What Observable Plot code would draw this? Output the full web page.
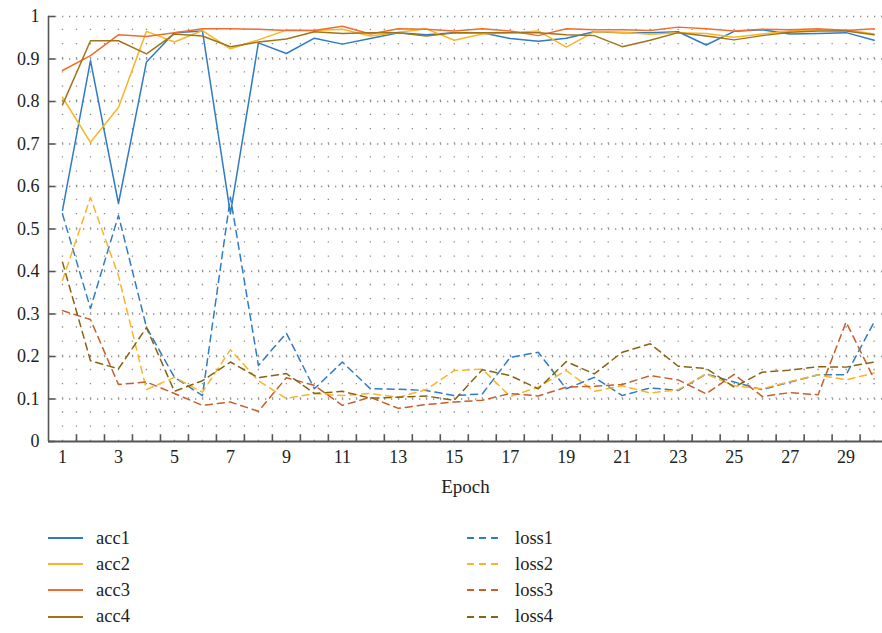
<!DOCTYPE html>
<html>
<head>
<meta charset="utf-8">
<script src="https://cdn.jsdelivr.net/npm/d3@7"></script>
<script src="https://cdn.jsdelivr.net/npm/@observablehq/plot@0.6"></script>
<style>
  html, body { margin: 0; padding: 0; background: #fff; }
  body { width: 882px; height: 633px; overflow: hidden; font-family: "Liberation Serif", serif; }
  #legend { position: relative; width: 882px; height: 123px; }
  .item { position: absolute; height: 20px; display: flex; align-items: center; font-size: 18.5px; color: #222; }
  .item svg { display: block; margin-right: 13px; }
</style>
</head>
<body>
<div id="chart"></div>
<div id="legend"></div>
<script>
// ---- data ----
const epochs = [1,2,3,4,5,6,7,8,9,10,11,12,13,14,15,16,17,18,19,20,21,22,23,24,25,26,27,28,29,30];
const acc1 = [0.544,0.896,0.560,0.893,0.962,0.966,0.536,0.938,0.913,0.949,0.935,0.948,0.962,0.957,0.962,0.962,0.948,0.942,0.949,0.964,0.962,0.962,0.964,0.933,0.965,0.969,0.959,0.960,0.962,0.944];
const acc2 = [0.810,0.704,0.786,0.965,0.940,0.967,0.924,0.945,0.968,0.967,0.970,0.954,0.963,0.971,0.944,0.959,0.962,0.966,0.928,0.964,0.963,0.958,0.962,0.960,0.951,0.959,0.966,0.969,0.969,0.959];
const acc3 = [0.873,0.908,0.957,0.953,0.962,0.971,0.971,0.970,0.967,0.967,0.977,0.959,0.971,0.970,0.966,0.971,0.966,0.955,0.971,0.969,0.969,0.967,0.975,0.971,0.966,0.970,0.969,0.971,0.967,0.971];
const acc4 = [0.792,0.943,0.943,0.912,0.959,0.954,0.929,0.940,0.947,0.964,0.960,0.962,0.962,0.954,0.962,0.962,0.962,0.962,0.957,0.955,0.929,0.944,0.962,0.954,0.945,0.955,0.963,0.966,0.966,0.957];
const loss1 = [0.535,0.313,0.532,0.269,0.151,0.108,0.575,0.179,0.255,0.124,0.187,0.124,0.123,0.120,0.108,0.112,0.198,0.210,0.124,0.151,0.108,0.126,0.120,0.159,0.140,0.122,0.140,0.157,0.157,0.281];
const loss2 = [0.379,0.574,0.390,0.122,0.151,0.116,0.216,0.143,0.101,0.113,0.108,0.113,0.104,0.122,0.167,0.170,0.106,0.128,0.167,0.118,0.131,0.114,0.122,0.159,0.131,0.124,0.141,0.157,0.145,0.161];
const loss3 = [0.308,0.287,0.134,0.140,0.113,0.085,0.093,0.071,0.150,0.132,0.085,0.104,0.078,0.087,0.093,0.097,0.113,0.107,0.128,0.130,0.134,0.155,0.145,0.112,0.158,0.106,0.115,0.110,0.281,0.147];
const loss4 = [0.422,0.190,0.171,0.268,0.118,0.143,0.187,0.150,0.160,0.113,0.118,0.102,0.104,0.107,0.097,0.169,0.155,0.124,0.188,0.159,0.210,0.230,0.177,0.172,0.128,0.163,0.168,0.176,0.175,0.187];

const accNames = ["acc1","acc2","acc3","acc4"];
const lossNames = ["loss1","loss2","loss3","loss4"];
const xTickLabels = [1,3,5,7,9,11,13,15,17,19,21,23,25,27,29];
const yTicks = [0,0.1,0.2,0.3,0.4,0.5,0.6,0.7,0.8,0.9,1];
const xLabel = "Epoch";

// ---- styles ----
const colors = {
  acc1: "#2F7BC5", acc2: "#F9B526", acc3: "#EC6F31", acc4: "#A27418",
  loss1: "#2F7BC5", loss2: "#F9B526", loss3: "#C75E2B", loss4: "#876414"
};
const dash = "7,5";

const seriesValues = {acc1, acc2, acc3, acc4, loss1, loss2, loss3, loss4};
const table = [];
for (const name of [...accNames, ...lossNames]) {
  seriesValues[name].forEach((v, i) => table.push({epoch: epochs[i], value: v, series: name}));
}

const xMin = 0.5, xMax = 30.3;
const halfTicks = epochs.map(e => e + 0.5).filter(v => v < xMax);
const gridX = [...epochs, ...halfTicks];
const gridColor = "#8c8c8c";
const axisColor = "#555";

const plot = Plot.plot({
  width: 882,
  height: 510,
  marginLeft: 48,
  marginRight: 0,
  marginTop: 16,
  marginBottom: 69,
  style: {fontFamily: "'Liberation Serif', serif", fontSize: "18px", color: "#222", background: "#fff"},
  x: {domain: [xMin, xMax]},
  y: {domain: [0, 1]},
  marks: [
    // dotted grid
    Plot.ruleX(gridX, {x: d => d, y1: 0, y2: 1, stroke: gridColor, strokeWidth: 1.3, strokeDasharray: "1.3,12.87"}),
    Plot.ruleY(yTicks.filter(d => d > 0), {y: d => d, x1: xMin, x2: xMax, stroke: gridColor, strokeWidth: 1.3, strokeDasharray: "1.3,5.7"}),
    // accuracy (solid)
    ...accNames.map(n => Plot.line(table.filter(d => d.series === n), {
      x: "epoch", y: "value", stroke: colors[n], strokeWidth: 1.5
    })),
    // loss (dashed)
    ...lossNames.map(n => Plot.line(table.filter(d => d.series === n), {
      x: "epoch", y: "value", stroke: colors[n], strokeWidth: 1.5, strokeDasharray: dash
    })),
    // frame lines
    Plot.ruleX([xMin], {y1: 0, y2: 1, stroke: axisColor, strokeWidth: 1.6}),
    Plot.ruleY([0], {x1: xMin, x2: xMax, stroke: axisColor, strokeWidth: 1.8}),
    // inward ticks
    Plot.ruleY(yTicks, {y: d => d, x1: xMin, x2: xMin + 0.25, stroke: axisColor, strokeWidth: 1.6}),
    Plot.ruleX(halfTicks, {x: d => d, y1: 0, y2: 0.016, stroke: axisColor, strokeWidth: 1.6}),
    // axes labels
    Plot.axisY({ticks: yTicks, tickSize: 0, tickPadding: 9, tickFormat: d => String(+d.toFixed(1)), label: null}),
    Plot.axisX({ticks: xTickLabels, tickSize: 0, tickPadding: 9, tickFormat: d => String(d), label: null}),
    Plot.text([xLabel], {text: d => d, frameAnchor: "bottom", dy: 51, fontSize: 19})
  ]
});
document.getElementById("chart").appendChild(plot);

// ---- legend ----
const legend = document.getElementById("legend");
const rowTops = [28, 54.2, 80.4, 106.6];
function addItem(name, left, top, dashed) {
  const div = document.createElement("div");
  div.className = "item";
  div.style.left = left + "px";
  div.style.top = (top - 10) + "px";
  div.innerHTML = `<svg width="35" height="6"><line x1="0" y1="3" x2="35" y2="3" stroke="${colors[name]}" stroke-width="2" ${dashed ? `stroke-dasharray="7,5"` : ""}/></svg><span>${name}</span>`;
  legend.appendChild(div);
}
accNames.forEach((n, i) => addItem(n, 48, rowTops[i], false));
lossNames.forEach((n, i) => addItem(n, 467, rowTops[i], true));
</script>
</body>
</html>
